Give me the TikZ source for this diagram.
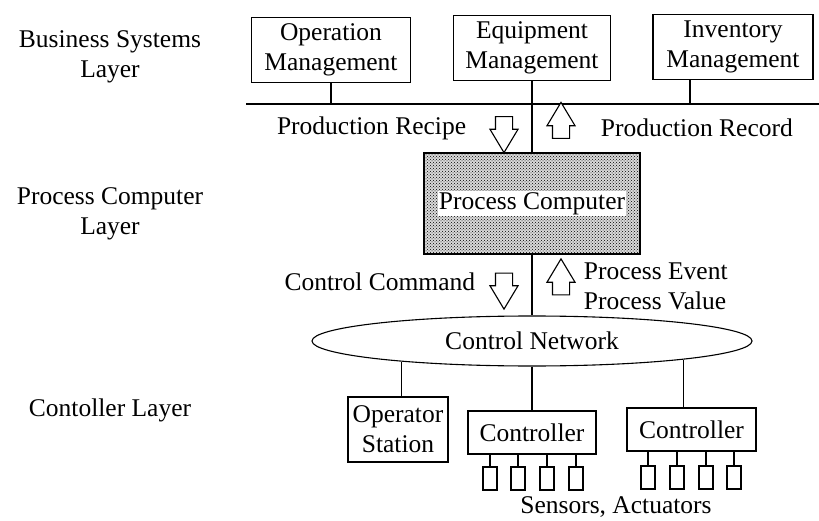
\documentclass[tikz,border=0pt]{standalone}
\usepackage{fontspec}
\setmainfont{Liberation Serif}
\usetikzlibrary{shapes.geometric}
\usetikzlibrary{shapes.arrows}
\usetikzlibrary{patterns}

\begin{document}
\begin{tikzpicture}[x=1pt, y=-1pt, line width=1.1pt,
		font=\fontsize{25.5}{30}\selectfont,
		box/.style={draw, align=center, inner sep=2pt},
		sensor/.style={draw, inner sep=0pt, minimum width=14, minimum height=23},
		flow/.style={single arrow, draw, fill=white, inner sep=8pt, minimum height=36,
			single arrow head extend=5.5, single arrow tip angle=62}]
			\useasboundingbox (0,0) rectangle (819,521);

			% layer names on the left
			\node[align=center] (bizlayer) at (110,57) {Business Systems\\Layer};
			\node[align=center] (pclayer) at (110,214) {Process Computer\\Layer};
			\node (ctllayer) at (110,410) {Contoller Layer};

			% business systems and their bus
			\node[box, minimum width=159, minimum height=65] (opmgmt) at (331,50) {Operation\\Management};
			\node[box, minimum width=157, minimum height=65] (eqmgmt) at (532,48) {Equipment\\Management};
			\node[box, minimum width=160, minimum height=65] (invmgmt) at (733,47) {Inventory\\Management};
			\coordinate (busL) at (246,104);
			\coordinate (busR) at (819,104);
			\coordinate (invtap) at (690,104);
			\draw (busL) -- (busR);
			\draw (opmgmt.south) -- (opmgmt.south |- busL);
			\draw (invtap) -- (invtap |- invmgmt.south);

			% process computer
			\node[box, minimum width=216, minimum height=101, preaction={fill=black!15}, pattern=crosshatch dots] (pc) at (532,203.5) {};
			\node[fill=white, inner sep=1pt] (pctext) at (pc.center) {Process Computer};
			\draw (eqmgmt.south) -- (pc.north);

			% data passed up and down
			\node[flow, shape border rotate=270] (recipearr) at (504,127.5) {};
			\node[flow, shape border rotate=90] (recordarr) at (561,127.5) {};
			\node[anchor=east] (recipe) at (470,128) {Production Recipe};
			\node[anchor=west] (record) at (597,128) {Production Record};
			\node[flow, shape border rotate=270] (cmdarr) at (504,284) {};
			\node[flow, shape border rotate=90] (evtarr) at (561,284) {};
			\node[anchor=east] (cmd) at (479,282) {Control Command};
			\node[anchor=west, align=left] (evt) at (580,286) {Process Event\\Process Value};

			% control network
			\node[draw, ellipse, fill=white, minimum width=440, minimum height=50] (net) at (532,341) {Control Network};
			\draw (pc.south) -- (net.north);

			% controller layer
			\node[box, minimum width=100, minimum height=65] (opst) at (398,429.5) {Operator\\Station};
			\node[box, minimum width=128, minimum height=43] (ctla) at (532,432.5) {Controller};
			\node[box, minimum width=129, minimum height=43] (ctlb) at (691.5,429.5) {Controller};
			\draw (net.189) -- (net.189 |- opst.north);
			\draw (net.south) -- (ctla.north);
			\draw (net.353) -- (net.353 |- ctlb.north);

			% sensors and actuators
			\foreach \x [count=\i] in {490,518,547,576} {
				\node[sensor] (sa\i) at (\x,478.5) {};
				\draw (sa\i.north) -- (sa\i.north |- ctla.south);
			}
			\foreach \x [count=\i] in {648,677,706,734} {
				\node[sensor] (sb\i) at (\x,477.5) {};
				\draw (sb\i.north) -- (sb\i.north |- ctlb.south);
			}
			\node (sensors) at (616,507) {Sensors, Actuators};
		\end{tikzpicture}
\end{document}
